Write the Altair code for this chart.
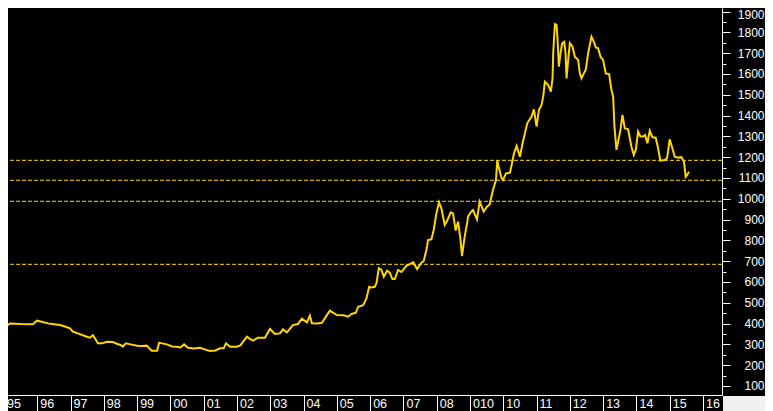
import altair as alt
import pandas as pd

# Gold price (decimal year, USD/oz)
t_vals = [
    1995.00, 1995.10, 1995.18, 1995.50, 1995.87, 1995.99, 1996.10, 1996.32, 1996.50, 1996.68,
    1996.85, 1996.98, 1997.07, 1997.22, 1997.35, 1997.49, 1997.58, 1997.67, 1997.75, 1997.82,
    1997.95, 1998.09, 1998.27, 1998.39, 1998.50, 1998.57, 1998.66, 1998.80, 1999.00, 1999.15,
    1999.29, 1999.36, 1999.44, 1999.60, 1999.66, 1999.75, 1999.89, 2000.05, 2000.19, 2000.30,
    2000.41, 2000.53, 2000.70, 2000.89, 2001.05, 2001.19, 2001.35, 2001.49, 2001.60, 2001.67,
    2001.79, 2001.99, 2002.10, 2002.30, 2002.40, 2002.48, 2002.63, 2002.84, 2002.99, 2003.14,
    2003.29, 2003.38, 2003.50, 2003.68, 2003.83, 2003.95, 2004.10, 2004.19, 2004.25, 2004.40,
    2004.55, 2004.79, 2005.00, 2005.20, 2005.34, 2005.44, 2005.57, 2005.64, 2005.79, 2005.89,
    2005.97, 2006.04, 2006.14, 2006.19, 2006.26, 2006.34, 2006.41, 2006.51, 2006.59, 2006.67,
    2006.74, 2006.84, 2006.94, 2007.09, 2007.24, 2007.29, 2007.41, 2007.54, 2007.61, 2007.69,
    2007.74, 2007.84, 2007.91, 2007.99, 2008.07, 2008.14, 2008.24, 2008.31, 2008.42, 2008.49,
    2008.57, 2008.64, 2008.71, 2008.76, 2008.84, 2008.92, 2008.94, 2009.02, 2009.09, 2009.21,
    2009.29, 2009.41, 2009.51, 2009.59, 2009.69, 2009.78, 2009.82, 2009.86, 2009.95, 2009.99,
    2010.08, 2010.20, 2010.25, 2010.32, 2010.40, 2010.50, 2010.58, 2010.65, 2010.72, 2010.85,
    2010.92, 2011.00, 2011.07, 2011.15, 2011.20, 2011.25, 2011.35, 2011.43, 2011.48, 2011.50,
    2011.55, 2011.60, 2011.63, 2011.67, 2011.72, 2011.77, 2011.83, 2011.87, 2011.90, 2011.94,
    2012.00, 2012.08, 2012.15, 2012.25, 2012.30, 2012.35, 2012.42, 2012.48, 2012.55, 2012.65,
    2012.72, 2012.78, 2012.85, 2012.92, 2013.00, 2013.08, 2013.18, 2013.25, 2013.30, 2013.34,
    2013.40, 2013.45, 2013.52, 2013.58, 2013.65, 2013.75, 2013.85, 2013.92, 2013.98, 2014.05,
    2014.12, 2014.20, 2014.26, 2014.33, 2014.40, 2014.48, 2014.58, 2014.65, 2014.72, 2014.85,
    2014.92, 2015.00, 2015.08, 2015.15, 2015.25, 2015.35, 2015.43, 2015.48, 2015.52, 2015.58,
]
prices = [
    390, 392, 400, 398, 397, 414, 410, 401, 397, 393,
    385, 377, 361, 353, 345, 337, 332, 344, 325, 305,
    305, 313, 311, 303, 297, 289, 305, 300, 293, 292,
    294, 282, 270, 270, 308, 305, 300, 290, 289, 285,
    300, 284, 280, 284, 275, 268, 271, 281, 281, 305,
    289, 289, 295, 337, 325, 318, 332, 332, 374, 350,
    353, 372, 358, 393, 398, 424, 406, 438, 401, 400,
    404, 462, 441, 440, 433, 446, 452, 481, 489, 521,
    577, 574, 577, 594, 666, 658, 625, 654, 645, 614,
    614, 658, 648, 678, 690, 695, 662, 693, 701, 754,
    802, 805, 850, 930, 983, 954, 874, 893, 935, 930,
    847, 890, 810, 725, 818, 890, 914, 935, 946, 901,
    986, 938, 962, 973, 1042, 1090, 1186, 1154, 1098, 1090,
    1122, 1125, 1162, 1218, 1254, 1202, 1267, 1315, 1363, 1395,
    1430, 1347, 1427, 1451, 1491, 1563, 1547, 1515, 1579, 1700,
    1840, 1836, 1772, 1635, 1700, 1748, 1755, 1700, 1579, 1651,
    1748, 1731, 1683, 1667, 1603, 1579, 1603, 1622, 1700, 1779,
    1755, 1728, 1724, 1683, 1667, 1603, 1600, 1523, 1491, 1347,
    1235, 1275, 1331, 1403, 1339, 1334, 1250, 1211, 1235, 1323,
    1299, 1299, 1307, 1267, 1327, 1296, 1294, 1243, 1183, 1186,
    1195, 1286, 1243, 1202, 1198, 1200, 1178, 1106, 1114, 1130,
]

# Dashed horizontal levels
levels = [1185, 1089, 988, 685]

# Year cells on the bottom band
label_years = list(range(1995, 2017))
label_texts = ["95", "96", "97", "98", "99", "00", "01", "02", "03", "04", "05",
               "06", "07", "08", "010", "10", "11", "12", "13", "14", "15", "16"]

# Right axis
y_ticks = list(range(100, 1901, 50))

price_df = pd.DataFrame({"t": t_vals, "v": prices})
level_df = pd.DataFrame({"level": levels})
label_df = pd.DataFrame({"year": label_years, "lab": label_texts})
corner_df = pd.DataFrame({"k": [0]})

W, H = 714, 387
RIGHT = 43
GOLD = "#FFD700"
FONT = "Liberation Sans"

xs = alt.Scale(domain=[1995.12, 2016.571], nice=False, zero=False)
ys = alt.Scale(domain=[56.7, 1917.3], nice=False, zero=False)

x_axis = alt.Axis(
    values=label_years, labels=False, ticks=True, tickSize=16, tickColor="white",
    tickWidth=1, domainColor="white", domainWidth=1, grid=False, title=None,
)
y_axis = alt.Axis(
    orient="right", values=y_ticks, format="d",
    labelExpr="datum.value % 100 === 0 ? datum.label : ''",
    tickSize={"condition": {"test": "datum.value % 100 === 0", "value": 8}, "value": 4},
    labelOffset={"condition": {"test": "datum.value === 1900", "value": 3}, "value": 0},
    tickColor="white", tickWidth=1, domainColor="white", domainWidth=1,
    labelColor="white", labelFont=FONT, labelFontSize=12, labelAlign="right",
    labelBaseline="middle", labelPadding=34, labelOverlap=False, grid=False, title=None,
)

line = alt.Chart(price_df).mark_line(color=GOLD, strokeWidth=2, clip=True).encode(
    x=alt.X("t:Q", scale=xs, axis=x_axis),
    y=alt.Y("v:Q", scale=ys, axis=y_axis),
)

rules = alt.Chart(level_df).mark_rule(color=GOLD, strokeDash=[4, 2], strokeWidth=1).encode(
    y=alt.Y("level:Q", scale=ys, axis=y_axis)
)

labels = alt.Chart(label_df).mark_text(
    align="left", baseline="alphabetic", color="white", font=FONT, fontSize=12.5, dx=3
).encode(
    x=alt.X("year:Q", scale=xs, axis=x_axis),
    y=alt.value(H + 13),
    text="lab:N",
)

corner = alt.Chart(corner_df).mark_rect(color="#F0F0F0").encode(
    x=alt.value(W + 1), x2=alt.value(W + RIGHT), y=alt.value(H + 1), y2=alt.value(H + 16)
)

chart = alt.layer(line, rules, labels, corner).properties(
    width=W, height=H,
    autosize=alt.AutoSizeParams(type="none"),
    padding={"left": 0, "top": 0, "right": RIGHT, "bottom": 16},
    background="#000000",
).configure_view(strokeOpacity=0)

chart.save("out.html", embed_options={"renderer": "svg", "actions": False})
